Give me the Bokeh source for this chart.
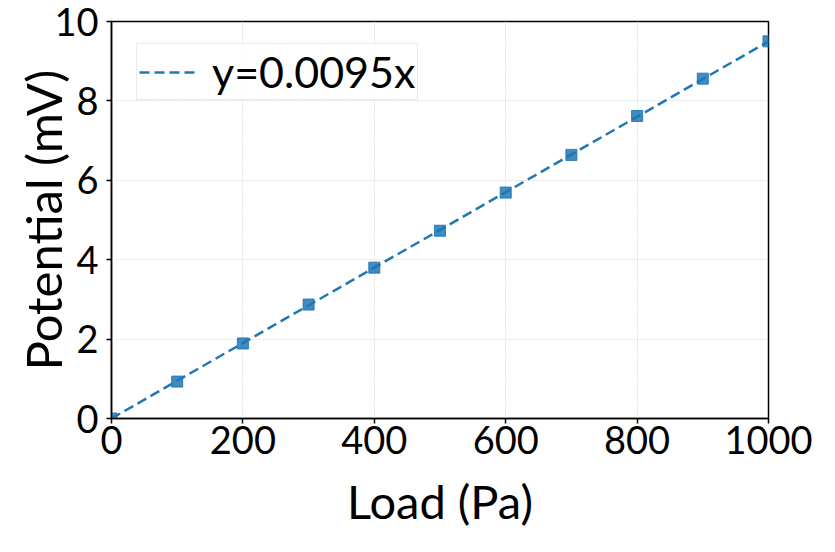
from bokeh.plotting import figure
from bokeh.models import Range1d, Legend, LegendItem, FixedTicker
from bokeh.embed import file_html
from bokeh.resources import INLINE

# data
load = [0, 100, 200, 300, 400, 500, 600, 700, 800, 900, 1000]
potential = [0.0, 0.93, 1.89, 2.87, 3.80, 4.73, 5.69, 6.64, 7.62, 8.56, 9.50]
fit_x = [0, 1000]
fit_y = [0.0, 9.5]
fit_label = "y=0.0095x"
x_ticks = [0, 200, 400, 600, 800, 1000]
y_ticks = [0, 2, 4, 6, 8, 10]
x_title = "Load (Pa)"
y_title = "Potential (mV)"

FONT = "Lato"
BLUE = "#1f77b4"

p = figure(width=819, height=536, output_backend="svg", toolbar_location=None,
           x_range=Range1d(0, 1000), y_range=Range1d(0, 10),
           min_border_left=111, min_border_right=51, min_border_top=21, min_border_bottom=118)

p.outline_line_color = "black"
p.outline_line_width = 1.5
p.background_fill_color = "white"
p.border_fill_color = "white"

for ax, ticks in ((p.xaxis[0], x_ticks), (p.yaxis[0], y_ticks)):
    ax.ticker = FixedTicker(ticks=ticks)
    ax.minor_tick_line_color = None
    ax.major_tick_in = 0
    ax.major_tick_out = 5
    ax.major_tick_line_color = "black"
    ax.major_tick_line_width = 1.5
    ax.axis_line_color = "black"
    ax.axis_line_width = 1.5
    ax.major_label_text_font = FONT
    ax.major_label_text_font_size = "38px"
    ax.major_label_text_color = "black"
    ax.axis_label_text_font = FONT
    ax.axis_label_text_font_style = "normal"
    ax.axis_label_text_color = "black"

p.xaxis.axis_label = x_title
p.yaxis.axis_label = y_title
p.xaxis.axis_label_text_font_size = "47px"
p.yaxis.axis_label_text_font_size = "49px"
p.xaxis.major_label_standoff = 2
p.yaxis.major_label_standoff = 8
p.xaxis.axis_label_standoff = 16
p.yaxis.axis_label_standoff = -21

p.xgrid.ticker = FixedTicker(ticks=x_ticks)
p.ygrid.ticker = FixedTicker(ticks=y_ticks)
p.grid.grid_line_color = "#e3e3e3"
p.grid.grid_line_width = 1
p.grid.grid_line_dash = "2 1"

ln = p.line(fit_x, fit_y, line_color=BLUE, line_width=2.5, line_dash="10 5")
p.scatter(load, potential, marker="square", size=11, fill_color=BLUE, fill_alpha=0.85,
          line_color=BLUE, line_alpha=0.9)

legend = Legend(items=[LegendItem(label=fit_label, renderers=[ln])],
                location=(25, 318), padding=2, glyph_width=56, glyph_height=30,
                label_standoff=17, label_text_font=FONT, label_text_font_size="43px",
                label_text_color="black", border_line_color="#d6d6d6", border_line_width=1,
                background_fill_alpha=0.85, margin=0)
p.add_layout(legend, "center")

open("out.html", "w").write(file_html(p, INLINE))
